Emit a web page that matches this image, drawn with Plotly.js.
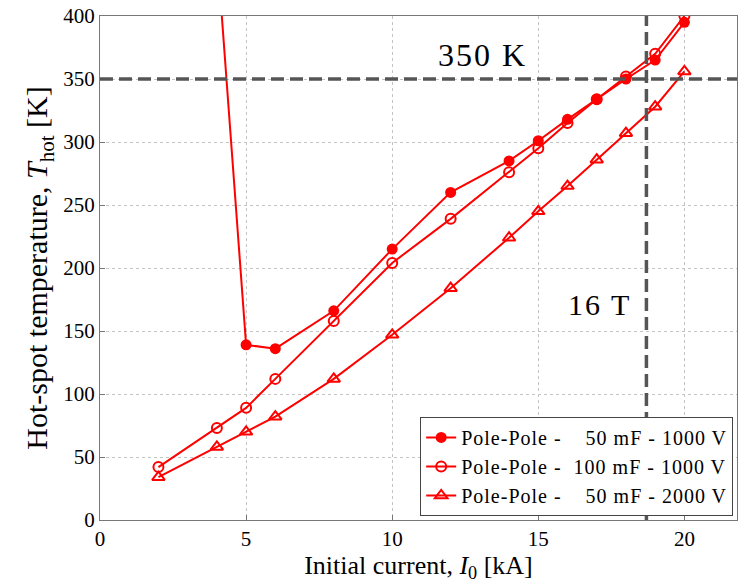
<!DOCTYPE html>
<html>
<head>
<meta charset="utf-8">
<script src="https://cdn.plot.ly/plotly-3.0.1.min.js"></script>
<style>
html,body{margin:0;padding:0;background:#fff;}
#chart{width:738px;height:583px;}
.legendtext{letter-spacing:1px;}
.annotation-text{letter-spacing:2px;}
</style>
</head>
<body>
<div id="chart"></div>
<script>
// Data
const current50mF1000V = [4, 5, 6, 8, 10, 12, 14, 15, 16, 17, 18, 19, 20];
const temp50mF1000V    = [453, 139, 136, 166, 215, 260, 285, 301, 318, 334, 350, 365, 395];

const current100mF1000V = [2, 4, 5, 6, 8, 10, 12, 14, 15, 16, 17, 18, 19, 20];
const temp100mF1000V    = [42, 73, 89, 112, 158, 204, 239, 276, 295, 315, 334, 352, 370, 400];

const current50mF2000V = [2, 4, 5, 6, 8, 10, 12, 14, 15, 16, 17, 18, 19, 20];
const temp50mF2000V    = [34, 58, 70, 82, 112, 147, 184, 224, 245, 265, 286, 307, 328, 356];

const NB = "\u00A0";
const seriesNames = [
  "Pole-Pole -" + NB.repeat(4) + "50 mF - 1000 V",
  "Pole-Pole -" + NB.repeat(2) + "100 mF - 1000 V",
  "Pole-Pole -" + NB.repeat(4) + "50 mF - 2000 V"
];

const limitTemperature = 350;   // K
const current16T = 18.7;        // kA
const xTicks = [0, 5, 10, 15, 20];
const yTicks = [0, 50, 100, 150, 200, 250, 300, 350, 400];

const red = "#ff0000";
const font = "Liberation Serif, Times New Roman, serif";

const traces = [
  {x: current50mF1000V, y: temp50mF1000V, name: seriesNames[0], mode: "lines+markers",
   line: {color: red, width: 2}, marker: {symbol: "circle", size: 11, color: red}},
  {x: current100mF1000V, y: temp100mF1000V, name: seriesNames[1], mode: "lines+markers",
   line: {color: red, width: 2}, marker: {symbol: "circle-open", size: 10, color: red, line: {width: 2, color: red}}},
  {x: current50mF2000V, y: temp50mF2000V, name: seriesNames[2], mode: "lines+markers",
   line: {color: red, width: 2}, marker: {symbol: "triangle-up-open", size: 11, color: red, line: {width: 2, color: red}}}
];

const axisCommon = {
  showline: true, mirror: true, linecolor: "#777", linewidth: 1,
  ticks: "inside", ticklen: 5, tickcolor: "#777",
  showgrid: true, gridcolor: "#c4c4c4", griddash: "dot", gridwidth: 1,
  zeroline: false, tickfont: {family: font, size: 21, color: "#000"}
};

const dashPattern = "13px,6px";

const layout = {
  width: 738, height: 583,
  margin: {l: 100, r: 1, t: 16, b: 63},
  paper_bgcolor: "#fff", plot_bgcolor: "#fff",
  font: {family: font, color: "#000"},
  showlegend: true,
  xaxis: Object.assign({}, axisCommon, {
    range: [0, 21.8], tickvals: xTicks,
    title: {text: "Initial current, <i>I</i><sub>0</sub> [kA]", font: {family: font, size: 26}, standoff: 1}
  }),
  yaxis: Object.assign({}, axisCommon, {
    range: [0, 400], tickvals: yTicks,
    title: {text: "Hot-spot temperature, <i>T</i><sub>hot</sub> [K]", font: {family: font, size: 30}, standoff: 6}
  }),
  legend: {
    x: 0.994, y: 0.008, xanchor: "right", yanchor: "bottom",
    bgcolor: "#fff", bordercolor: "#444", borderwidth: 1,
    font: {family: font, size: 20, color: "#000"},
    tracegroupgap: 0
  },
  shapes: [
    {type: "line", xref: "paper", x0: 0, x1: 1, yref: "y", y0: limitTemperature, y1: limitTemperature,
     line: {color: "#555", width: 3.5, dash: dashPattern}},
    {type: "line", xref: "x", x0: current16T, x1: current16T, yref: "paper", y0: 0, y1: 1,
     line: {color: "#555", width: 3.5, dash: dashPattern}}
  ],
  annotations: [
    {x: 13.1, y: 369, xref: "x", yref: "y", text: "350 K", showarrow: false,
     font: {family: font, size: 32, color: "#000"}},
    {x: 17.1, y: 171, xref: "x", yref: "y", text: "16 T", showarrow: false,
     font: {family: font, size: 30, color: "#000"}}
  ]
};

Plotly.newPlot("chart", traces, layout, {displayModeBar: false, staticPlot: true});
</script>
</body>
</html>
